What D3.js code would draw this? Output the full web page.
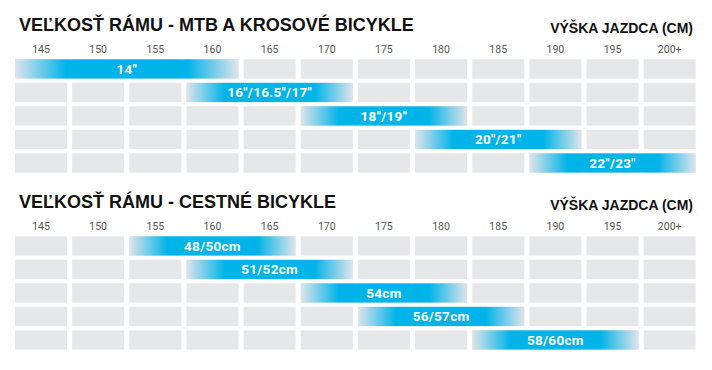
<!DOCTYPE html>
<html>
<head>
<meta charset="utf-8">
<script src="https://cdn.jsdelivr.net/npm/d3@7"></script>
<style>
  body { margin: 0; background: #fff; }
  svg { display: block; }
</style>
</head>
<body>
<svg id="chart" width="712" height="370"></svg>
<script>
// rider heights (columns)
var heights = ["145", "150", "155", "160", "165", "170", "175", "180", "185", "190", "195", "200+"];

// MTB / cross frame sizes and the height range they cover
var mtbSizes = ["14\"", "16\"/16.5\"/17\"", "18\"/19\"", "20\"/21\"", "22\"/23\""];
var mtbFrom  = ["145", "160", "170", "180", "190"];
var mtbTo    = ["160", "170", "180", "190", "200+"];

// road frame sizes
var roadSizes = ["48/50cm", "51/52cm", "54cm", "56/57cm", "58/60cm"];
var roadFrom  = ["155", "160", "170", "175", "185"];
var roadTo    = ["165", "170", "180", "185", "195"];

var svg = d3.select("#chart");

// shared gradient for the blue bars, fades out at both ends
var grad = svg.append("defs").append("linearGradient").attr("id", "barGrad");
grad.selectAll("stop")
    .data([["0%", "#dfe4ea"], ["23%", "#00b3e9"], ["77%", "#00b3e9"], ["100%", "#dfe4ea"]])
  .enter().append("stop")
    .attr("offset", function(d){ return d[0]; })
    .attr("stop-color", function(d){ return d[1]; });

var x = d3.scaleBand().domain(heights).range([15, 695.7]).paddingInner(0.09);

function drawChart(title, top, sizes, from, to) {
    var g = svg.append("g");

    g.append("text")
        .attr("x", 19).attr("y", top)
        .attr("font-family", "Liberation Sans, Arial, sans-serif")
        .attr("font-weight", "bold").attr("font-size", 18)
        .attr("fill", "#111")
        .text(title);

    g.append("text")
        .attr("x", 693).attr("y", top + 2)
        .attr("text-anchor", "end")
        .attr("font-family", "Liberation Sans, Arial, sans-serif")
        .attr("font-weight", "bold").attr("font-size", 14)
        .attr("fill", "#111")
        .text("VÝŠKA JAZDCA (CM)");

    // tick labels above the columns
    g.selectAll(".tick")
        .data(heights)
      .enter().append("text")
        .attr("x", function(d){ return x(d) + x.bandwidth() / 2; })
        .attr("y", top + 22)
        .attr("text-anchor", "middle")
        .attr("font-family", "Roboto, sans-serif")
        .attr("font-size", 10.5)
        .attr("fill", "#555")
        .text(function(d){ return d; });

    var y = d3.scaleBand().domain(d3.range(sizes.length))
        .range([top + 28.3, top + 141.6]).paddingInner(0.18);

    // gray grid cells
    var cells = [];
    y.domain().forEach(function(r){ heights.forEach(function(h){ cells.push({r: r, h: h}); }); });
    g.selectAll(".cell")
        .data(cells)
      .enter().append("rect")
        .attr("x", function(d){ return x(d.h); })
        .attr("y", function(d){ return y(d.r); })
        .attr("width", x.bandwidth())
        .attr("height", y.bandwidth())
        .attr("fill", "#e6e7e9");

    // frame size bars
    var bars = g.selectAll(".bar")
        .data(sizes)
      .enter().append("g");

    bars.append("rect")
        .attr("x", function(d,i){ return x(from[i]); })
        .attr("y", function(d,i){ return y(i); })
        .attr("width", function(d,i){ return x(to[i]) + x.bandwidth() - x(from[i]); })
        .attr("height", y.bandwidth())
        .attr("fill", "url(#barGrad)");

    bars.append("text")
        .attr("x", function(d,i){ return (x(from[i]) + x(to[i]) + x.bandwidth()) / 2; })
        .attr("y", function(d,i){ return y(i) + y.bandwidth() / 2 + 4.7; })
        .attr("text-anchor", "middle")
        .attr("font-family", "Roboto, sans-serif")
        .attr("font-weight", "bold").attr("font-size", 13.5)
        .attr("letter-spacing", 0.3)
        .attr("fill", "#fff")
        .text(function(d){ return d; });
}

drawChart("VEĽKOSŤ RÁMU - MTB A KROSOVÉ BICYKLE", 31, mtbSizes, mtbFrom, mtbTo);
drawChart("VEĽKOSŤ RÁMU - CESTNÉ BICYKLE", 208, roadSizes, roadFrom, roadTo);
</script>
</body>
</html>
